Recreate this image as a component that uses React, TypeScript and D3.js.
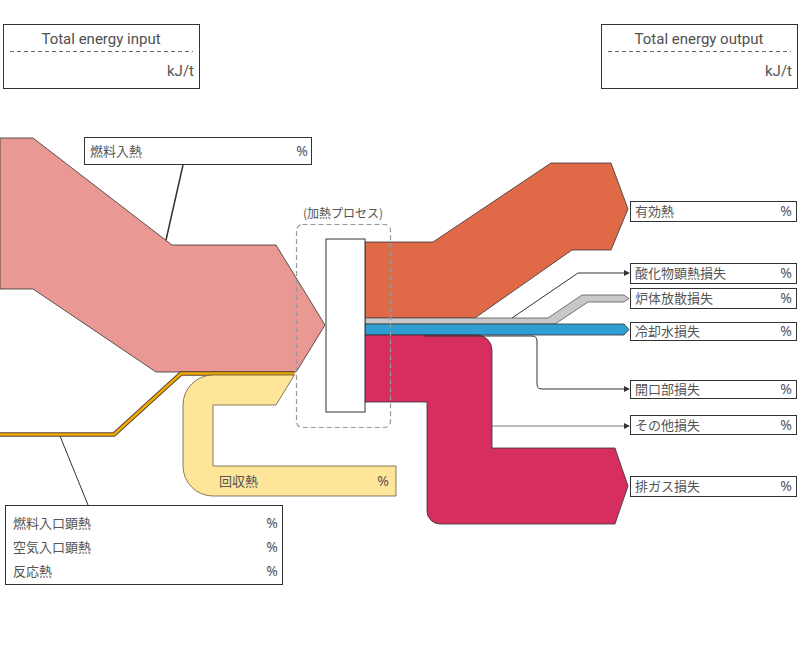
import React from "react";
import * as d3 from "d3";

// ---------- data ----------
const totalTitles = ["Total energy input", "Total energy output"];
const unitLabel = "kJ/t";
const processLabel = "(加熱プロセス)";
const fuelName = "燃料入熱";
const sensibleNames = ["燃料入口顕熱", "空気入口顕熱", "反応熱"];
const recoveredName = "回収熱";
// input flows into the process (band thickness units): fuel, sensible heats, recovered heat
const inputFlows = [127, 3, 30];
// output flows, in stacking order at the process outlet
const outputNames = ["有効熱", "酸化物顕熱損失", "炉体放散損失", "冷却水損失", "開口部損失", "その他損失", "排ガス損失"];
const outputFlows = [76, 0, 6, 11, 0, 0, 67];
const pctLabel = "%";

const W = 800;
const H = 670;
const FONT = "'Noto Sans CJK JP', 'Noto Sans', sans-serif";
const LATIN = "Roboto, 'Noto Sans', sans-serif";
const PCT = "'Noto Sans', sans-serif";
const TXT = "#555";

export default function App() {
  const t = d3.scaleLinear().domain([0, 1]).range([0, 1]); // flow value -> px thickness
  const line = d3.line<[number, number]>();
  const closed = (pts: [number, number][]) => line(pts) + "Z";

  // ---- input stack (arrow into process) ----
  const yL0 = 245;
  const inCum = d3.cumsum(inputFlows);
  const yFuelBot = yL0 + t(inCum[0]);
  const ySensBot = yL0 + t(inCum[1]);
  const yRecBot = yL0 + t(inCum[2]);
  const baseX = 276;
  const tipX = 325;
  const tipY = (yL0 + yRecBot) / 2;
  const half = (yRecBot - yL0) / 2;
  const xAt = (y: number) => tipX - ((tipX - baseX) * Math.abs(y - tipY)) / half;

  const fuelPts: [number, number][] = [
    [0, yL0 - 107],
    [33, yL0 - 107],
    [172, yL0],
    [baseX, yL0],
    [tipX, tipY],
    [xAt(yFuelBot), yFuelBot],
    [156, yFuelBot],
    [33, yFuelBot - 83],
    [0, yFuelBot - 83],
  ];

  const sensMid = (yFuelBot + ySensBot) / 2;
  const sensY2 = sensMid + 61;
  const sensPts: [number, number][] = [
    [0, sensY2],
    [114, sensY2],
    [181, sensMid],
    [xAt(sensMid) - 1, sensMid],
  ];

  // recovered heat loop
  const recW = t(inputFlows[2]);
  const r = 30;
  const xo = 183;
  const yRecTop = ySensBot;
  const yLoopBot = 496;
  const xEnd = 396;
  const recPath = (() => {
    const p = d3.path();
    p.moveTo(xAt(yRecTop), yRecTop);
    p.lineTo(xo + r, yRecTop);
    p.arcTo(xo, yRecTop, xo, yRecTop + r, r);
    p.lineTo(xo, yLoopBot - r);
    p.arcTo(xo, yLoopBot, xo + r, yLoopBot, r);
    p.lineTo(xEnd, yLoopBot);
    p.lineTo(xEnd, yLoopBot - recW);
    p.lineTo(xo + recW, yLoopBot - recW);
    p.lineTo(xo + recW, yRecBot);
    p.lineTo(xAt(yRecBot), yRecBot);
    p.closePath();
    return p.toString();
  })();

  // ---- process box ----
  const yR0 = 242;
  const procX0 = 326;
  const procX1 = 365;
  const outCum = [0, ...d3.cumsum(outputFlows)];
  const yOut = outCum.map((c) => yR0 + t(c));
  const total = outCum[outCum.length - 1];

  // useful heat
  const usefulPts: [number, number][] = [
    [procX1, yOut[0]],
    [433, yOut[0]],
    [551, yOut[0] - 79],
    [611, yOut[0] - 79],
    [628, yOut[0] - 33],
    [611, yOut[0] + 8],
    [572, yOut[0] + 8],
    [475, yOut[1]],
    [procX1, yOut[1]],
  ];
  // shell loss (炉体放散損失)
  const sTop = yOut[2];
  const sBot = yOut[3];
  const sw = sBot - sTop;
  const shellY = 295;
  const shellPts: [number, number][] = [
    [procX1, sTop],
    [548, sTop],
    [582, shellY],
    [624, shellY],
    [629, shellY + sw / 2 + 0.5],
    [624, shellY + sw + 1],
    [588, shellY + sw + 1],
    [555, sBot],
    [procX1, sBot],
  ];
  // cooling water
  const cTop = yOut[3];
  const cBot = yOut[4];
  const coolPts: [number, number][] = [
    [procX1, cTop],
    [624, cTop],
    [629, (cTop + cBot) / 2],
    [624, cBot],
    [procX1, cBot],
  ];
  // exhaust gas
  const eTop = yOut[6];
  const eBot = yOut[7];
  const exPath = (() => {
    const p = d3.path();
    const xr = 492;
    const xl = 427;
    const yb0 = 448;
    const yb1 = 524;
    p.moveTo(procX1, eTop);
    p.lineTo(xr - 15, eTop);
    p.arcTo(xr, eTop, xr, eTop + 15, 15);
    p.lineTo(xr, yb0);
    p.lineTo(615, yb0);
    p.lineTo(628, (yb0 + yb1) / 2);
    p.lineTo(615, yb1);
    p.lineTo(xl + 13, yb1);
    p.arcTo(xl, yb1, xl, yb1 - 13, 13);
    p.lineTo(xl, eBot);
    p.lineTo(procX1, eBot);
    p.closePath();
    return p.toString();
  })();

  // thin-line flows
  const oxidePts: [number, number][] = [
    [512, yOut[1]],
    [578, 273],
    [627, 273],
  ];
  const openPath = (() => {
    const p = d3.path();
    const y = yOut[5] + 1;
    p.moveTo(423, y);
    p.lineTo(532, y);
    p.quadraticCurveTo(537, y, 537, y + 5);
    p.lineTo(537, 384);
    p.quadraticCurveTo(537, 389, 542, 389);
    p.lineTo(627, 389);
    return p.toString();
  })();
  const otherPts: [number, number][] = [
    [492, 426],
    [627, 426],
  ];

  // right-side label boxes [y, h]
  const rightBoxes: [number, number][] = [
    [201, 20],
    [263, 20],
    [288, 20],
    [322, 18],
    [380, 18],
    [415, 19],
    [476, 20],
  ];

  const arrowHead = (x: number, y: number, c: string) => (
    <path d={closed([[x - 5, y - 3], [x + 1, y], [x - 5, y + 3]])} fill={c} />
  );

  const totalBox = (x: number, title: string) => (
    <g key={title}>
      <rect x={x + 0.5} y={24.5} width={196} height={64} fill="#fff" stroke="#333" strokeWidth={1} />
      <text x={x + 98} y={44} textAnchor="middle" fontSize={15} fill="#505050" fontFamily={LATIN}>
        {title}
      </text>
      <line x1={x + 7} x2={x + 190} y1={51.5} y2={51.5} stroke="#666" strokeDasharray="4,3" />
      <text x={x + 191} y={76} textAnchor="end" fontSize={15} fill={TXT} fontFamily={LATIN}>
        {unitLabel}
      </text>
    </g>
  );

  const pct = (x: number, y: number) => (
    <text x={x} y={y} fontSize={14} fill={TXT} textAnchor="end" fontFamily={PCT}>{pctLabel}</text>
  );

  return (
    <svg width={W} height={H} style={{ position: "absolute", left: 0, top: 0, background: "#fff" }} fontFamily={FONT}>
      {totalBox(3, totalTitles[0])}
      {totalBox(601, totalTitles[1])}

      {/* leader lines */}
      <line x1={183} y1={165} x2={166} y2={240} stroke="#333" strokeWidth={1.5} />
      <line x1={60} y1={436} x2={88} y2={505} stroke="#333" strokeWidth={1} />

      {/* inputs */}
      <path d={closed(fuelPts)} fill="#E99893" stroke="#333" strokeWidth={0.8} />
      <path d={line(sensPts)!} fill="none" stroke="#5a4630" strokeWidth={4.5} />
      <path d={line(sensPts)!} fill="none" stroke="#F2A900" strokeWidth={2.5} />
      <path d={recPath} fill="#FFE599" stroke="#6b5a40" strokeWidth={0.8} />
      <text x={219} y={486} fontSize={13} fill={TXT}>{recoveredName}</text>
      {pct(389, 486)}

      {/* outputs */}
      <path d={closed(usefulPts)} fill="#E06A47" stroke="#333" strokeWidth={0.8} />
      <path d={line(oxidePts)!} fill="none" stroke="#333" strokeWidth={1} />
      {arrowHead(629, 273, "#333")}
      <path d={closed(shellPts)} fill="#C8C8C8" stroke="#555" strokeWidth={0.8} />
      <path d={closed(coolPts)} fill="#2E9ED3" stroke="#333" strokeWidth={0.8} />
      <path d={exPath} fill="#D62E5E" stroke="#333" strokeWidth={0.8} />
      <path d={openPath} fill="none" stroke="#333" strokeWidth={1} />
      {arrowHead(629, 389, "#333")}
      <path d={line(otherPts)!} fill="none" stroke="#777" strokeWidth={1} />
      {arrowHead(629, 426, "#333")}

      {/* process */}
      <rect x={procX0} y={yR0 - 3} width={procX1 - procX0} height={t(total) + 13} fill="#fff" stroke="#333" strokeWidth={1} />
      <rect x={296.5} y={224.5} width={94} height={203} rx={6} fill="none" stroke="#999" strokeWidth={1.2} strokeDasharray="5,3" />
      <text x={343} y={218} textAnchor="middle" fontSize={12} fill={TXT}>{processLabel}</text>

      {/* fuel label */}
      <rect x={84.5} y={137.5} width={227} height={27} fill="#fff" stroke="#333" strokeWidth={1} />
      <text x={90} y={156} fontSize={13} fill={TXT}>{fuelName}</text>
      {pct(308, 156)}

      {/* sensible heat box */}
      <rect x={5.5} y={505.5} width={277} height={79} fill="#fff" stroke="#333" strokeWidth={1} />
      {sensibleNames.map((n, i) => (
        <g key={n}>
          <text x={13} y={528 + i * 24} fontSize={13} fill={TXT}>{n}</text>
          {pct(278, 528 + i * 24)}
        </g>
      ))}

      {/* right labels */}
      {outputNames.map((n, i) => {
        const [y, h] = rightBoxes[i];
        return (
          <g key={n}>
            <rect x={630.5} y={y + 0.5} width={166} height={h} fill="#fff" stroke="#333" strokeWidth={1} />
            <text x={635} y={y + h / 2 + 5} fontSize={13} fill={TXT}>{n}</text>
            {pct(792, y + h / 2 + 5)}
          </g>
        );
      })}
    </svg>
  );
}
